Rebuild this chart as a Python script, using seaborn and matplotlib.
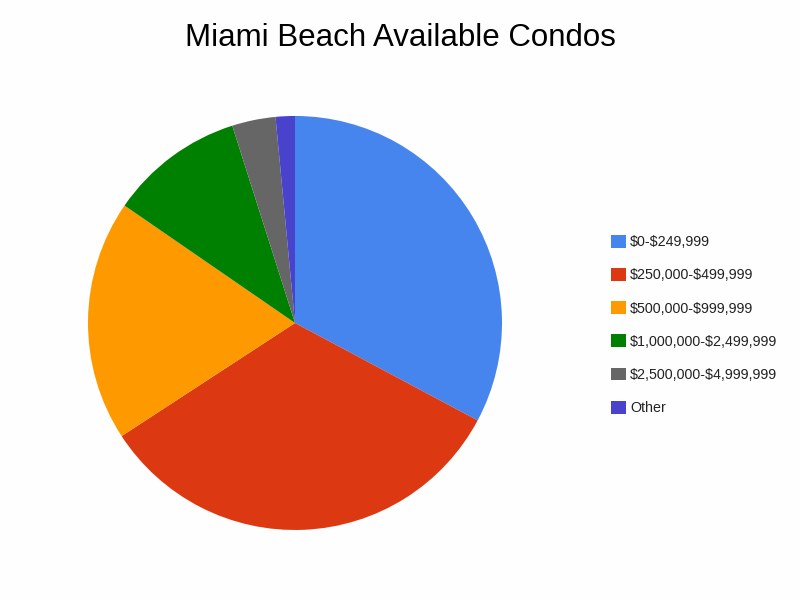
import matplotlib
matplotlib.use("Agg")
import matplotlib.pyplot as plt
import seaborn as sns

# values (percent of listings)
labels = ["$0-$249,999", "$250,000-$499,999", "$500,000-$999,999",
          "$1,000,000-$2,499,999", "$2,500,000-$4,999,999", "Other"]
shares = [32.8, 33.0, 18.8, 10.5, 3.4, 1.5]
colors = ["#4684EE", "#DC3912", "#FF9900", "#008000", "#666666", "#4942CC"]

sns.set_theme(style="white")
plt.rcParams['font.family'] = ['Liberation Sans', 'DejaVu Sans']
plt.rcParams['text.parse_math'] = False

bg = "#FDFEFD"
fig = plt.figure(figsize=(8, 6), dpi=100, facecolor=bg)
ax = fig.add_axes([0.11, 0.1167, 0.5175, 0.69])
ax.set_facecolor(bg)

palette = sns.color_palette(colors)
wedges, _ = ax.pie(shares, colors=palette, startangle=90, counterclock=False,
                   radius=1.0, wedgeprops=dict(linewidth=0))
ax.set_xlim(-1, 1)
ax.set_ylim(-1, 1)
ax.set_aspect("equal")
ax.axis("off")

fig.text(0.5, 0.937, "Miami Beach Available Condos", ha="center", va="center",
         fontsize=22.5, color="black")

leg = fig.legend(wedges, labels, loc="upper left", bbox_to_anchor=(0.757, 0.618),
                 frameon=False, fontsize=10.3, handlelength=1.0, handleheight=1.0,
                 handletextpad=0.3, labelspacing=1.32, borderaxespad=0)
for t in leg.get_texts():
    t.set_color("#222222")

fig.savefig("out.png", dpi=100, facecolor=bg)
